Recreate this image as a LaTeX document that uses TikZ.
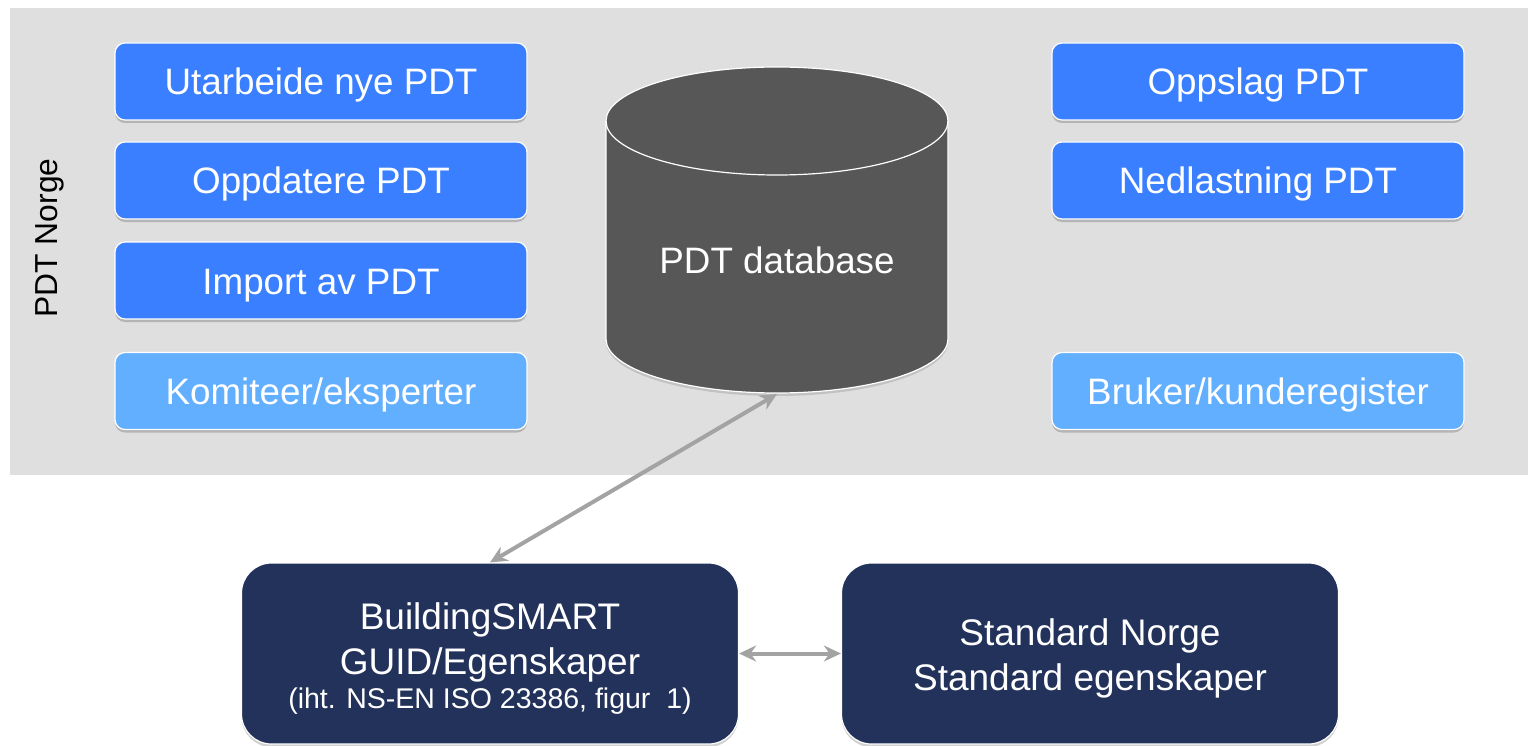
\documentclass[tikz,border=0pt]{standalone}
\usepackage{fontspec}
\setmainfont{Liberation Sans}
\usetikzlibrary{shadows,arrows.meta}
\definecolor{panelgray}{HTML}{DFDFDF}
\definecolor{bblue}{HTML}{3A7FFF}
\definecolor{lblue}{HTML}{62AEFF}
\definecolor{dbgray}{HTML}{575757}
\definecolor{navy}{HTML}{22325A}
\definecolor{arrgray}{HTML}{A3A3A3}
\newcommand{\bigstrut}{\rule[-8pt]{0pt}{43pt}}
\tikzset{
  boxbase/.style={draw=white, line width=1.2pt, rounded corners=10pt, minimum width=412pt, minimum height=77pt, inner sep=0pt, text=white,
    font=\fontsize{36.8}{44}\selectfont, execute at begin node=\bigstrut,
    drop shadow={opacity=0.35, shadow xshift=0pt, shadow yshift=-3pt, fill=black!60}},
  darkbox/.style={boxbase, fill=bblue},
  lightbox/.style={boxbase, fill=lblue},
  navybox/.style={draw=white, line width=1.2pt, rounded corners=30pt, fill=navy, text=white, minimum width=497pt, minimum height=181pt, inner sep=0pt, align=center,
    font=\fontsize{37}{45}\selectfont,
    drop shadow={opacity=0.3, shadow xshift=0pt, shadow yshift=-3pt, fill=black!60}},
  conn/.style={draw=arrgray, line width=4pt, {Stealth[length=17pt,width=16pt]}-{Stealth[length=17pt,width=16pt]}}
}
\begin{document}
\begin{tikzpicture}[x=1pt,y=-1pt]
\useasboundingbox (0,0) rectangle (1528,746);
% panel
\fill[panelgray, drop shadow={opacity=0.25, shadow xshift=0pt, shadow yshift=-3pt}] (10,8) rectangle (1530,472);
\node[rotate=90, font=\fontsize{31.8}{36}\selectfont] (pdtnorge) at (50,238) {PDT Norge};
% left boxes
\node[darkbox] (l1) at (321,81.5) {Utarbeide nye PDT};
\node[darkbox] (l2) at (321,180.5) {Oppdatere PDT};
\node[darkbox] (l3) at (321,280.5) {Import av PDT};
\node[lightbox] (l4) at (321,391) {Komiteer/eksperter};
% right boxes
\node[darkbox] (r1) at (1258,81.5) {Oppslag PDT};
\node[darkbox] (r2) at (1258,180.5) {Nedlastning PDT};
\node[lightbox] (r4) at (1258,391) {Bruker/kunderegister};
% database cylinder
\path[fill=dbgray, draw=white, line width=1.2pt, drop shadow={opacity=0.3, shadow xshift=0pt, shadow yshift=-3pt}]
  (606,121) -- (606,339) arc[start angle=180, end angle=0, x radius=171, y radius=54] -- (948,121)
  arc[start angle=0, end angle=-180, x radius=171, y radius=54] -- cycle;
\draw[white, line width=1.2pt] (606,121) arc[start angle=180, end angle=0, x radius=171, y radius=54];
\node[text=white, font=\fontsize{36.8}{44}\selectfont] (db) at (777,260) {\rule[-8pt]{0pt}{42.4pt}PDT database};
\coordinate (dbbot) at (777,394);
% bottom boxes
\node[navybox] (bs) at (490,653.5) {\rule{0pt}{37pt}BuildingSMART\\GUID/Egenskaper\\[-11pt]{\fontsize{28.5}{34}\selectfont (iht. NS-EN ISO 23386, figur\ \ 1)}};
\node[navybox] (sn) at (1090,653.5) {\rule{0pt}{37pt}Standard Norge\\Standard egenskaper};
% connectors
\draw[conn] (bs.north) -- (dbbot);
\draw[conn] (bs.east) -- (sn.west);
\end{tikzpicture}
\end{document}
